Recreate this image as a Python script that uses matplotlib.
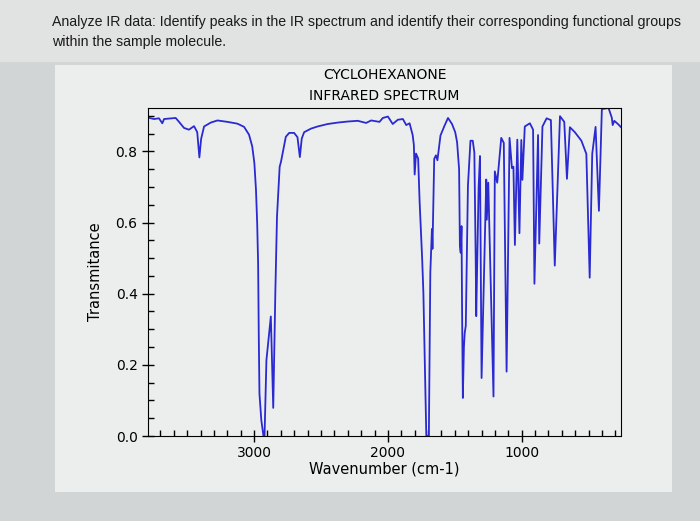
import numpy as np
import matplotlib
matplotlib.use("Agg")
import matplotlib.pyplot as plt
from matplotlib.patches import Rectangle
from matplotlib.ticker import MultipleLocator

# Cyclohexanone IR spectrum
wavenumber = np.array([
    3793, 3748, 3711, 3686, 3673, 3586, 3561, 3524, 3487, 3449,
    3425, 3409, 3396, 3374, 3324, 3274, 3199, 3125, 3075, 3038,
    3014, 2998, 2986, 2977, 2970, 2965, 2960, 2946, 2930, 2922,
    2908, 2875, 2857, 2841, 2829, 2809, 2799, 2782, 2763, 2738,
    2701, 2676, 2658, 2644, 2626, 2575, 2526, 2450, 2375, 2300,
    2225, 2163, 2125, 2063, 2038, 2000, 1964, 1926, 1888, 1863,
    1838, 1815, 1806, 1800, 1790, 1774, 1763, 1756, 1744, 1735,
    1713, 1694, 1683, 1671, 1667, 1654, 1641, 1630, 1607, 1576,
    1551, 1521, 1497, 1483, 1468, 1462, 1456, 1450, 1446, 1440,
    1432, 1426, 1418, 1402, 1383, 1366, 1354, 1347, 1344, 1340,
    1322, 1312, 1300, 1265, 1261, 1250, 1211, 1201, 1183, 1153,
    1134, 1113, 1091, 1073, 1062, 1051, 1033, 1017, 1003, 995,
    977, 939, 915, 905, 878, 869, 845, 814, 782, 753,
    714, 682, 662, 640, 603, 554, 517, 492, 473, 448,
    423, 401, 351, 327, 320, 308, 278, 258,
])
transmittance = np.array([
    0.895, 0.891, 0.893, 0.879, 0.891, 0.894, 0.883, 0.866, 0.861, 0.871,
    0.854, 0.783, 0.835, 0.870, 0.881, 0.887, 0.883, 0.878, 0.869, 0.847,
    0.814, 0.767, 0.692, 0.598, 0.485, 0.279, 0.119, 0.044, 0.000, 0.000,
    0.213, 0.336, 0.079, 0.410, 0.616, 0.757, 0.771, 0.804, 0.841, 0.852,
    0.852, 0.840, 0.784, 0.836, 0.854, 0.864, 0.870, 0.877, 0.881, 0.884,
    0.886, 0.880, 0.887, 0.883, 0.894, 0.898, 0.877, 0.889, 0.891, 0.874,
    0.879, 0.846, 0.818, 0.735, 0.794, 0.780, 0.658, 0.601, 0.498, 0.404,
    0.000, 0.000, 0.460, 0.582, 0.526, 0.779, 0.789, 0.775, 0.845, 0.873,
    0.894, 0.877, 0.854, 0.826, 0.750, 0.534, 0.515, 0.590, 0.370, 0.107,
    0.250, 0.290, 0.310, 0.703, 0.830, 0.830, 0.797, 0.600, 0.500, 0.337,
    0.700, 0.787, 0.163, 0.721, 0.608, 0.712, 0.111, 0.744, 0.712, 0.838,
    0.824, 0.181, 0.838, 0.753, 0.757, 0.537, 0.833, 0.570, 0.832, 0.720,
    0.870, 0.879, 0.861, 0.428, 0.846, 0.541, 0.870, 0.893, 0.888, 0.479,
    0.899, 0.883, 0.723, 0.868, 0.854, 0.830, 0.793, 0.445, 0.793, 0.869,
    0.633, 0.919, 0.922, 0.895, 0.874, 0.886, 0.876, 0.868,
])

question = ("Analyze IR data: Identify peaks in the IR spectrum and identify their "
            "corresponding functional groups\nwithin the sample molecule.")

fig = plt.figure(figsize=(7, 5.21), dpi=100)
fig.patch.set_facecolor("#d2d5d6")

# photo background: lighter band behind the question, white-ish screen panel
fig.patches.append(Rectangle((0, 1 - 62 / 521), 1, 62 / 521, transform=fig.transFigure,
                             facecolor="#e1e2e2", edgecolor="none", zorder=-10))
fig.patches.append(Rectangle((55 / 700, 1 - 492 / 521), 617 / 700, 427 / 521,
                             transform=fig.transFigure, facecolor="#eceeee",
                             edgecolor="none", zorder=-10))

fig.text(52 / 700, 1 - 32 / 521, question, family="Liberation Sans", fontsize=10.2,
         ha="left", va="center", linespacing=1.5, color="#1a1a1a")

ax = fig.add_axes([148 / 700, 1 - 436 / 521, 473 / 700, 328 / 521])
ax.set_facecolor("none")
ax.plot(wavenumber, transmittance, color="#2a2ad0", linewidth=1.3)

ax.set_xlim(wavenumber.max(), wavenumber.min())
ax.set_ylim(transmittance.min(), transmittance.max())

ax.xaxis.set_major_locator(MultipleLocator(1000))
ax.xaxis.set_minor_locator(MultipleLocator(100))
ax.yaxis.set_major_locator(MultipleLocator(0.2))
ax.yaxis.set_minor_locator(MultipleLocator(0.05))
ax.yaxis.set_major_formatter(plt.FuncFormatter(lambda v, p: f"{v:.1f}"))
ax.tick_params(which="major", direction="inout", length=8, labelsize=10, width=1)
ax.tick_params(which="minor", direction="in", length=4, width=1)
ax.tick_params(top=False, right=False, which="both")

ax.set_title("CYCLOHEXANONE\nINFRARED SPECTRUM", fontsize=10, pad=6, linespacing=1.6)
ax.set_xlabel("Wavenumber (cm-1)", fontsize=10.5, labelpad=1)
ax.set_ylabel("Transmitance", fontsize=10.5, labelpad=9)

fig.savefig("out.png", dpi=100, facecolor=fig.get_facecolor())
